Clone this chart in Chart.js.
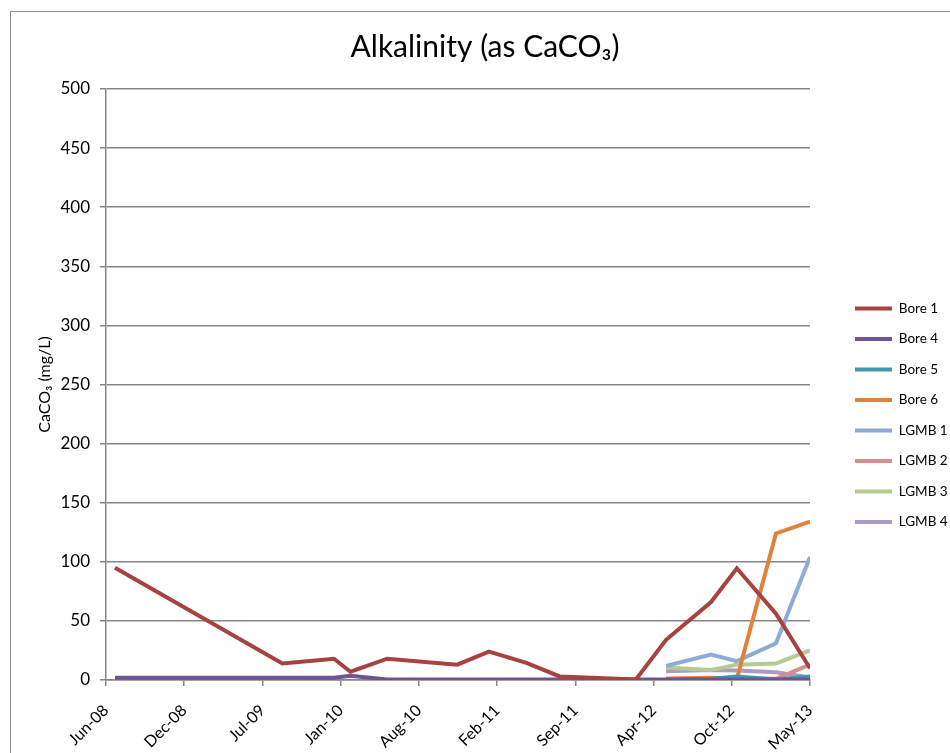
<!DOCTYPE html>
<html>
<head>
<meta charset="utf-8">
<script src="https://cdn.jsdelivr.net/npm/chart.js@4.4.1/dist/chart.umd.min.js"></script>
<style>
  html, body { margin: 0; padding: 0; background: #fff; }
  #wrap { width: 950px; height: 753px; }
</style>
</head>
<body>
<div id="wrap"><canvas id="alkChart"></canvas></div>
<script>
// sample dates (x) and alkalinity values per bore, mg/L as CaCO3
const sampleDates = [
  '2008-06-24', '2009-08-26', '2010-01-05', '2010-02-16', '2010-05-21',
  '2010-11-16', '2011-02-05', '2011-05-12', '2011-08-05', '2012-02-16',
  '2012-05-03', '2012-08-26', '2012-10-31', '2013-02-08', '2013-05-06'
];
const seriesNames = ['Bore 1', 'Bore 4', 'Bore 5', 'Bore 6', 'LGMB 1', 'LGMB 2', 'LGMB 3', 'LGMB 4'];
const bore1 = [95, 14, 18, 7, 18, 13, 24, 14.5, 3, 0.5, 34, 66, 94.5, 56, 10];
const bore4 = [2, 2, 2, 3.5, 0.5, 0.5, 0.5, 0.5, 0.5, 0.5, 0.5, 0.5, 0.5, 0.5, 0.5];
const bore5 = [null, null, null, null, null, null, null, null, null, null, 0, 1, 3, 0.5, 3];
const bore6 = [null, null, null, null, null, null, null, null, null, null, 1, 2, 1, 124, 134];
const lgmb1 = [null, null, null, null, null, null, null, null, null, null, 12, 21.5, 16, 31, 104];
const lgmb2 = [null, null, null, null, null, null, null, null, null, null, 1, 1.5, 1, 1, 13];
const lgmb3 = [null, null, null, null, null, null, null, null, null, null, 10.5, 8.5, 13, 14, 25];
const lgmb4 = [null, null, null, null, null, null, null, null, null, null, 7.5, 8.5, 8, 6.5, 2];
const yTicks = [0, 50, 100, 150, 200, 250, 300, 350, 400, 450, 500];

const colors = ['#A8423F', '#6E5494', '#3D98B1', '#E0823A', '#8EAAD8', '#D48E8C', '#B5CC8E', '#A99BC5'];
const allSeries = [bore1, bore4, bore5, bore6, lgmb1, lgmb2, lgmb3, lgmb4];

// x axis runs in days from the first label date, major unit 200 days like the original
const axisStart = Date.UTC(2008, 5, 1);
const DAY = 86400000;
const months = ['Jan', 'Feb', 'Mar', 'Apr', 'May', 'Jun', 'Jul', 'Aug', 'Sep', 'Oct', 'Nov', 'Dec'];
const toDays = s => (Date.parse(s + 'T00:00:00Z') - axisStart) / DAY;
const fmtDay = v => {
  const d = new Date(axisStart + v * DAY);
  return months[d.getUTCMonth()] + '-' + String(d.getUTCFullYear()).slice(2);
};

const datasets = seriesNames.map((name, i) => ({
  label: name,
  data: sampleDates.map((s, j) => ({ x: toDays(s), y: allSeries[i][j] })).filter(p => p.y !== null),
  borderColor: colors[i],
  backgroundColor: colors[i],
  borderWidth: 4,
  pointRadius: 0,
  tension: 0,
  fill: false
}));

const frame = {
  id: 'frame',
  beforeDraw(chart) {
    const ctx = chart.ctx;
    ctx.save();
    ctx.fillStyle = '#fff';
    ctx.fillRect(0, 0, chart.width, chart.height);
    ctx.strokeStyle = '#8c8c8c';
    ctx.lineWidth = 1;
    ctx.strokeRect(10.5, 11.5, 1200, 1200);
    ctx.restore();
  }
};

// legend column is wider than its text in the original and sits further right
const legendBox = {
  id: 'legendBox',
  afterInit(chart) {
    const lg = chart.legend;
    const fit = lg.fit;
    lg.fit = function () { fit.call(this); this.width = 140; };
  },
  afterLayout(chart) {
    chart.legend.left += 28;
    chart.titleBlock.left += 20;
  }
};

const font = "Lato, 'Open Sans', sans-serif";
Chart.defaults.font.family = font;
Chart.defaults.color = '#000';

new Chart(document.getElementById('alkChart'), {
  type: 'line',
  data: { datasets },
  plugins: [frame, legendBox],
  options: {
    responsive: true,
    maintainAspectRatio: false,
    animation: false,
    plugins: {
      title: {
        display: true,
        text: 'Alkalinity (as CaCO₃)',
        font: { size: 30, weight: 'normal' },
        padding: { top: 29, bottom: 24 }
      },
      legend: {
        position: 'right',
        title: { display: true, text: ' ', padding: { top: 63, bottom: 0 } },
        labels: {
          boxWidth: 37,
          boxHeight: 4,
          padding: 17,
          font: { size: 13.5 },
          generateLabels: chart => Chart.defaults.plugins.legend.labels.generateLabels(chart)
            .map(l => Object.assign(l, { lineWidth: 0 }))
        }
      },
      tooltip: { enabled: false }
    },
    scales: {
      x: {
        type: 'linear',
        min: 0,
        max: 1800,
        afterFit: s => { s.height = 73; },
        ticks: {
          stepSize: 200,
          autoSkip: false,
          maxRotation: 45,
          minRotation: 45,
          padding: 15,
          font: { size: 16 },
          callback: v => fmtDay(v)
        },
        grid: { drawOnChartArea: false, tickLength: 6, color: '#868686', lineWidth: 1.5 },
        border: { color: '#868686', width: 1.5 }
      },
      y: {
        min: 0,
        max: 500,
        afterFit: s => { s.width = 106; },
        afterBuildTicks: s => { s.ticks = yTicks.map(v => ({ value: v })); },
        ticks: { padding: 10, font: { size: 17 } },
        title: {
          display: true,
          text: 'CaCO₃ (mg/L)',
          font: { size: 16 },
          padding: { top: 35, bottom: 0 }
        },
        grid: { tickLength: 6, color: '#868686', lineWidth: 1.5 },
        border: { color: '#868686', width: 1.5 }
      }
    }
  }
});
</script>
</body>
</html>
